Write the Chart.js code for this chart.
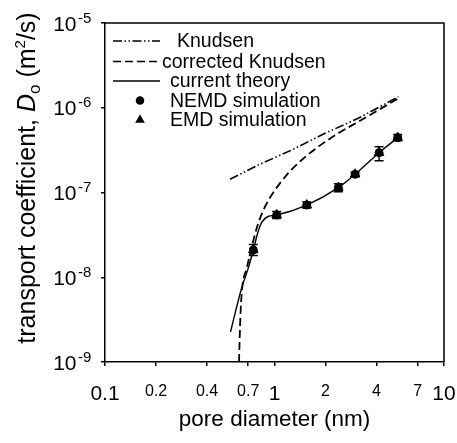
<!DOCTYPE html>
<html>
<head>
<meta charset="utf-8">
<script src="https://cdn.jsdelivr.net/npm/chart.js@4.4.1/dist/chart.umd.min.js"></script>
<style>
  html, body { margin: 0; padding: 0; background: #fff; }
  canvas { display: block; }
</style>
</head>
<body>
<canvas id="chart" width="457" height="443"></canvas>
<script>
// pore diameter (nm) vs transport coefficient (m2/s)
const knudsenD = [0.546, 0.802, 1.263, 1.986, 3.12, 5.38];
const knudsenY = [1.43e-7, 2.11e-7, 3.17e-7, 5.00e-7, 7.51e-7, 1.35e-6];

const corrD = [0.6175, 0.6215, 0.628, 0.643, 0.686, 0.734, 0.802, 0.879, 1.007, 1.206, 1.447, 1.813, 2.38, 3.12, 4.10, 5.38];
const corrY = [1.0e-9, 1.59e-9, 3.13e-9, 7.08e-9, 1.28e-8, 2.29e-8, 4.34e-8, 6.79e-8, 1.07e-7, 1.69e-7, 2.42e-7, 3.47e-7, 5.00e-7, 6.84e-7, 9.40e-7, 1.29e-6];

const theoryD = [0.550, 0.640, 0.700, 0.750, 0.799, 0.844, 0.915, 1.03, 1.55, 2.38, 2.99, 4.14, 5.33];
const theoryY = [2.26e-9, 7.47e-9, 1.28e-8, 2.10e-8, 3.42e-8, 4.49e-8, 5.21e-8, 5.43e-8, 7.11e-8, 1.14e-7, 1.64e-7, 2.95e-7, 4.44e-7];

const nemdD = [0.75, 1.03, 1.55, 2.38, 2.99, 4.14, 5.33];
const nemdY = [2.10e-8, 5.43e-8, 7.11e-8, 1.14e-7, 1.64e-7, 2.95e-7, 4.44e-7];
const nemdLow = [1.81e-8, 4.94e-8, 6.55e-8, 1.02e-7, 1.55e-7, 2.37e-7, 4.09e-7];
const nemdHigh = [2.44e-8, 5.97e-8, 7.71e-8, 1.27e-7, 1.73e-7, 3.47e-7, 4.82e-7];

const emdD = [0.75, 1.03, 1.55, 2.38, 2.99, 4.14, 5.33];
const emdY = [2.10e-8, 5.43e-8, 7.11e-8, 1.14e-7, 1.64e-7, 2.95e-7, 4.44e-7];

const xTickValues = [0.1, 0.2, 0.4, 0.7, 1, 2, 4, 7, 10];
const xMajor = [0.1, 1, 10];
const yTickValues = [1e-9, 1e-8, 1e-7, 1e-6, 1e-5];
const yExponents = ['-9', '-8', '-7', '-6', '-5'];

const FONT = "'Liberation Sans', Arial, sans-serif";

const pts = (xs, ys) => xs.map((x, i) => ({x: x, y: ys[i]}));

// error bars on the simulation points
const errorBars = {
    id: 'errorBars',
    afterDatasetsDraw(chart) {
        const ctx = chart.ctx;
        const xs = chart.scales.x, ys = chart.scales.y;
        ctx.save();
        ctx.strokeStyle = '#000';
        ctx.lineWidth = 1.5;
        nemdD.forEach((d, i) => {
            const px = xs.getPixelForValue(d);
            const lo = ys.getPixelForValue(nemdLow[i]);
            const hi = ys.getPixelForValue(nemdHigh[i]);
            ctx.beginPath();
            ctx.moveTo(px, lo); ctx.lineTo(px, hi);
            ctx.moveTo(px - 4.5, lo); ctx.lineTo(px + 4.5, lo);
            ctx.moveTo(px - 4.5, hi); ctx.lineTo(px + 4.5, hi);
            ctx.stroke();
        });
        ctx.restore();
    }
};

// frame, y tick labels with exponents, y title, legend
const decorations = {
    id: 'decorations',
    afterDraw(chart) {
        const ctx = chart.ctx;
        const area = chart.chartArea;
        const ys = chart.scales.y;
        ctx.save();

        ctx.strokeStyle = '#000';
        ctx.lineWidth = 1.5;
        ctx.beginPath();
        ctx.moveTo(area.left, area.top);
        ctx.lineTo(area.right, area.top);
        ctx.lineTo(area.right, area.bottom);
        ctx.stroke();

        ctx.fillStyle = '#000';
        ctx.textBaseline = 'alphabetic';
        yTickValues.forEach((v, i) => {
            const py = ys.getPixelForValue(v);
            ctx.font = '21px ' + FONT;
            ctx.textAlign = 'right';
            ctx.fillText('10', 76.5, py + 7.5);
            ctx.font = '15px ' + FONT;
            ctx.textAlign = 'left';
            ctx.fillText(yExponents[i], 78, py - 0.5);
        });

        // rotated y title
        const parts = [
            {t: 'transport coefficient, ', f: '25px ' + FONT, dy: 0},
            {t: 'D', f: 'italic 25px ' + FONT, dy: 0},
            {t: 'o', f: '17px ' + FONT, dy: 5},
            {t: ' (m', f: '25px ' + FONT, dy: 0},
            {t: '2', f: '15px ' + FONT, dy: -10},
            {t: '/s)', f: '25px ' + FONT, dy: 0}
        ];
        let total = 0;
        parts.forEach(p => { ctx.font = p.f; p.w = ctx.measureText(p.t).width; total += p.w; });
        ctx.translate(35, 178);
        ctx.rotate(-Math.PI / 2);
        let cx = -total / 2;
        ctx.textAlign = 'left';
        parts.forEach(p => {
            ctx.font = p.f;
            ctx.fillText(p.t, cx, p.dy);
            cx += p.w;
        });
        ctx.setTransform(1, 0, 0, 1, 0, 0);

        // legend
        const rows = [
            {label: 'Knudsen', y: 41, tx: 177, dash: [9, 2.5, 1.5, 2.5, 1.5, 2.5]},
            {label: 'corrected Knudsen', y: 61.5, tx: 162, dash: [8, 4]},
            {label: 'current theory', y: 81, tx: 170, dash: []},
            {label: 'NEMD simulation', y: 100.5, tx: 170, mark: 'circle'},
            {label: 'EMD simulation', y: 120, tx: 170, mark: 'triangle'}
        ];
        ctx.font = '19.5px ' + FONT;
        ctx.textBaseline = 'middle';
        rows.forEach(r => {
            if (r.mark) {
                Chart.helpers.drawPoint(ctx, {pointStyle: r.mark, radius: r.mark === 'circle' ? 3.5 : 4, borderWidth: 1}, 140, r.y);
                ctx.fill();
            } else {
                ctx.setLineDash(r.dash);
                ctx.lineWidth = 1.6;
                ctx.beginPath();
                ctx.moveTo(113, r.y); ctx.lineTo(160, r.y);
                ctx.stroke();
                ctx.setLineDash([]);
            }
            ctx.fillText(r.label, r.tx, r.y + 1);
        });
        ctx.restore();
    }
};

new Chart(document.getElementById('chart').getContext('2d'), {
    type: 'line',
    data: {
        datasets: [
            {
                label: 'Knudsen',
                data: pts(knudsenD, knudsenY),
                borderColor: '#000',
                borderWidth: 1.6,
                borderDash: [9, 2.5, 1.5, 2.5, 1.5, 2.5],
                pointRadius: 0,
                tension: 0
            },
            {
                label: 'corrected Knudsen',
                data: pts(corrD, corrY),
                borderColor: '#000',
                borderWidth: 1.8,
                borderDash: [8, 4],
                pointRadius: 0,
                cubicInterpolationMode: 'monotone'
            },
            {
                label: 'current theory',
                data: pts(theoryD, theoryY),
                borderColor: '#000',
                borderWidth: 1.4,
                pointRadius: 0,
                cubicInterpolationMode: 'monotone'
            },
            {
                label: 'NEMD simulation',
                data: pts(nemdD, nemdY),
                showLine: false,
                pointStyle: 'circle',
                pointRadius: 4,
                backgroundColor: '#000',
                borderColor: '#000'
            },
            {
                label: 'EMD simulation',
                data: pts(emdD, emdY),
                showLine: false,
                pointStyle: 'triangle',
                pointRadius: 5.5,
                backgroundColor: '#000',
                borderColor: '#000'
            }
        ]
    },
    options: {
        responsive: false,
        animation: false,
        devicePixelRatio: 1,
        layout: {padding: {top: 23, right: 13, left: 0, bottom: 0}},
        plugins: {
            legend: {display: false},
            tooltip: {enabled: false}
        },
        scales: {
            x: {
                type: 'logarithmic',
                min: 0.1,
                max: 10,
                afterBuildTicks: (scale) => { scale.ticks = xTickValues.map(v => ({value: v})); },
                afterFit: (scale) => {
                    scale.height = 81;
                    scale.paddingLeft = 0;
                    scale.paddingRight = 0;
                },
                ticks: {
                    color: '#000',
                    padding: 16,
                    maxRotation: 0,
                    autoSkip: false,
                    font: (c) => ({family: FONT, size: (c.tick && xMajor.includes(c.tick.value)) ? 21 : 16}),
                    callback: (value) => String(value)
                },
                grid: {drawOnChartArea: false, drawTicks: true, tickLength: 4, color: '#000', lineWidth: 1.5},
                border: {color: '#000', width: 1.5},
                title: {
                    display: true,
                    text: 'pore diameter (nm)',
                    color: '#000',
                    font: {family: FONT, size: 22.5},
                    padding: {top: 0, bottom: 10}
                }
            },
            y: {
                type: 'logarithmic',
                min: 1e-9,
                max: 1e-5,
                afterBuildTicks: (scale) => { scale.ticks = yTickValues.map(v => ({value: v})); },
                afterFit: (scale) => {
                    scale.width = 105;
                    scale.paddingTop = 0;
                    scale.paddingBottom = 0;
                },
                ticks: {display: false},
                grid: {drawOnChartArea: false, drawTicks: true, tickLength: 4, color: '#000', lineWidth: 1.5},
                border: {color: '#000', width: 1.5}
            }
        }
    },
    plugins: [errorBars, decorations]
});
</script>
</body>
</html>
